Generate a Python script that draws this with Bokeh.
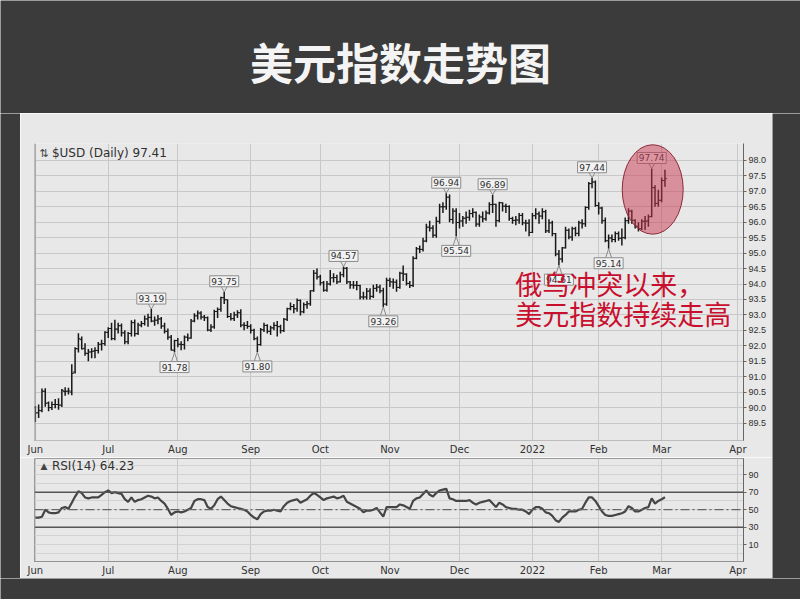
from bokeh.plotting import figure
from bokeh.layouts import column, row
from bokeh.models import (ColumnDataSource, Range1d, FixedTicker, Span, Label,
                          NumeralTickFormatter)
from bokeh.transform import dodge
from bokeh.core.properties import value
from bokeh.embed import file_html
from bokeh.resources import INLINE

# ---------------- data ----------------
title_text = "美元指数走势图"
note_line1 = "俄乌冲突以来，"
note_line2 = "美元指数持续走高"

month_idx = [0, 22, 43, 65, 86, 107, 128, 150, 170, 189, 212]
month_lbl = ["Jun", "Jul", "Aug", "Sep", "Oct", "Nov", "Dec", "2022", "Feb", "Mar", "Apr"]
price_ticks = [89.5, 90.0, 90.5, 91.0, 91.5, 92.0, 92.5, 93.0, 93.5, 94.0,
               94.5, 95.0, 95.5, 96.0, 96.5, 97.0, 97.5, 98.0]
rsi_ticks = [10, 30, 50, 70, 90]
rsi_grid = [0, 10, 20, 30, 40, 50, 60, 70, 80, 90, 100]

opens = [90.00, 89.83, 89.90, 90.53, 90.15, 90.00, 90.10, 90.10, 90.08, 90.52,
         90.53, 90.50, 91.15, 91.90, 92.20, 91.92, 91.75, 91.80, 91.83, 91.85,
         92.05, 92.07, 92.43, 92.56, 92.23, 92.54, 92.65, 92.42, 92.13, 92.40,
         92.75, 92.40, 92.67, 92.72, 92.87, 92.92, 92.80, 92.83, 92.87, 92.64,
         92.47, 92.28, 91.86, 92.17, 92.05, 92.04, 92.28, 92.25, 92.80, 92.97,
         93.06, 92.93, 92.91, 92.51, 92.61, 93.11, 93.18, 93.56, 93.49, 92.95,
         92.88, 93.00, 93.07, 92.67, 92.66, 92.63, 92.50, 92.23, 92.04, 92.52,
         92.66, 92.47, 92.58, 92.66, 92.62, 92.49, 92.86, 93.20, 93.27, 93.20,
         93.47, 93.10, 93.33, 93.36, 93.78, 94.35, 94.23, 94.04, 93.80, 94.00,
         94.20, 94.21, 94.07, 94.30, 94.51, 94.07, 93.97, 93.96, 93.95, 93.58,
         93.58, 93.77, 93.60, 93.86, 93.90, 93.78, 93.35, 94.12, 94.07, 94.06,
         93.89, 94.35, 94.32, 94.02, 93.95, 94.83, 95.14, 95.12, 95.39, 95.84,
         95.81, 95.58, 96.03, 96.50, 96.50, 96.81, 96.09, 96.36, 95.99, 96.04,
         96.13, 96.16, 96.28, 96.32, 95.94, 96.17, 96.11, 96.30, 96.57, 96.58,
         96.05, 96.63, 96.52, 96.51, 96.12, 96.06, 96.07, 96.22, 95.98, 95.97,
         95.67, 96.21, 96.27, 96.20, 96.34, 95.72, 95.98, 95.63, 94.97, 94.81,
         95.17, 95.74, 95.52, 95.79, 95.64, 95.98, 95.95, 96.48, 97.25, 97.30,
         96.54, 96.46, 96.05, 95.40, 95.49, 95.44, 95.63, 95.48, 95.50, 96.05,
         96.36, 96.06, 95.87, 95.79, 96.03, 96.04, 96.18, 97.12, 96.61, 96.71,
         97.35]
highs = [90.05, 90.10, 90.62, 90.63, 90.20, 90.20, 90.28, 90.30, 90.60, 90.66,
         90.64, 91.40, 91.95, 92.41, 92.30, 92.08, 91.90, 91.92, 91.95, 92.12,
         92.20, 92.47, 92.60, 92.75, 92.84, 92.75, 92.72, 92.50, 92.45, 92.83,
         92.85, 92.75, 92.80, 92.98, 93.04, 93.19, 92.95, 93.00, 92.93, 92.75,
         92.56, 92.35, 92.20, 92.25, 92.15, 92.33, 92.40, 92.87, 93.05, 93.14,
         93.12, 93.00, 92.95, 92.70, 93.17, 93.24, 93.59, 93.75, 93.50, 93.06,
         93.10, 93.15, 93.18, 92.76, 92.80, 92.70, 92.55, 92.30, 92.58, 92.75,
         92.70, 92.65, 92.76, 92.80, 92.68, 92.90, 93.23, 93.40, 93.35, 93.53,
         93.50, 93.40, 93.45, 93.80, 94.45, 94.50, 94.30, 94.10, 94.10, 94.45,
         94.35, 94.30, 94.40, 94.57, 94.55, 94.10, 94.10, 94.10, 93.98, 93.75,
         93.87, 93.86, 93.98, 94.00, 93.98, 93.88, 94.20, 94.20, 94.18, 94.15,
         94.40, 94.60, 94.35, 94.10, 94.90, 95.20, 95.25, 95.50, 95.95, 96.05,
         95.90, 96.18, 96.60, 96.65, 96.94, 96.90, 96.45, 96.45, 96.30, 96.20,
         96.35, 96.40, 96.45, 96.35, 96.25, 96.35, 96.38, 96.65, 96.89, 96.60,
         96.66, 96.65, 96.60, 96.55, 96.18, 96.20, 96.30, 96.30, 96.08, 96.10,
         96.30, 96.45, 96.35, 96.45, 96.40, 96.10, 96.05, 95.65, 95.10, 95.20,
         95.85, 95.80, 95.85, 95.85, 96.05, 96.10, 96.52, 97.30, 97.44, 97.35,
         96.65, 96.50, 96.15, 95.60, 95.60, 95.70, 95.70, 95.80, 96.15, 96.45,
         96.40, 96.10, 96.00, 96.10, 96.20, 96.25, 97.74, 97.20, 97.05, 97.45,
         97.70]
lows = [89.53, 89.66, 89.85, 90.03, 89.88, 89.92, 89.98, 89.93, 90.02, 90.38,
        90.42, 90.40, 91.10, 91.78, 91.88, 91.68, 91.50, 91.60, 91.60, 91.75,
        91.85, 92.00, 92.25, 92.18, 92.18, 92.40, 92.30, 92.05, 92.05, 92.30,
        92.30, 92.35, 92.60, 92.66, 92.62, 92.76, 92.65, 92.70, 92.55, 92.40,
        92.20, 91.85, 91.78, 91.95, 91.86, 91.88, 92.15, 92.23, 92.76, 92.85,
        92.85, 92.80, 92.47, 92.45, 92.55, 92.90, 93.10, 93.35, 92.90, 92.82,
        92.80, 92.90, 92.60, 92.50, 92.55, 92.40, 92.18, 91.80, 92.00, 92.45,
        92.40, 92.35, 92.50, 92.30, 92.40, 92.45, 92.80, 93.15, 93.05, 93.10,
        92.98, 93.05, 93.20, 93.30, 93.75, 94.15, 93.95, 93.75, 93.75, 93.95,
        94.05, 94.00, 94.05, 94.22, 94.00, 93.85, 93.85, 93.80, 93.50, 93.50,
        93.50, 93.50, 93.55, 93.75, 93.70, 93.26, 93.30, 93.90, 93.85, 93.75,
        93.85, 94.10, 93.95, 93.87, 93.90, 94.80, 95.00, 95.05, 95.35, 95.70,
        95.50, 95.50, 95.95, 96.30, 96.40, 96.00, 95.95, 95.54, 95.80, 95.85,
        95.95, 96.05, 96.15, 95.85, 95.85, 96.00, 96.05, 96.25, 96.30, 95.85,
        96.00, 96.35, 96.30, 96.05, 95.95, 95.90, 95.95, 95.90, 95.70, 95.55,
        95.65, 96.10, 95.95, 96.10, 95.65, 95.65, 95.55, 94.90, 94.61, 94.70,
        95.15, 95.45, 95.40, 95.55, 95.55, 95.80, 95.85, 96.40, 97.10, 96.50,
        96.25, 95.95, 95.35, 95.14, 95.35, 95.35, 95.40, 95.25, 95.45, 95.95,
        95.95, 95.80, 95.70, 95.75, 95.75, 95.85, 96.16, 96.50, 96.50, 96.65,
        97.15]
closes = [89.83, 89.91, 90.53, 90.14, 90.00, 90.10, 90.10, 90.08, 90.56, 90.53,
          90.54, 91.11, 91.91, 92.23, 91.90, 91.76, 91.80, 91.82, 91.85, 92.05,
          92.07, 92.44, 92.56, 92.23, 92.54, 92.65, 92.42, 92.13, 92.40, 92.75,
          92.39, 92.67, 92.72, 92.87, 92.92, 92.80, 92.83, 92.87, 92.64, 92.47,
          92.28, 91.86, 92.17, 92.05, 92.04, 92.28, 92.25, 92.80, 92.97, 93.06,
          92.93, 92.91, 92.51, 92.61, 93.11, 93.18, 93.56, 93.49, 92.95, 92.88,
          93.00, 93.07, 92.67, 92.66, 92.63, 92.50, 92.23, 92.04, 92.52, 92.66,
          92.47, 92.58, 92.66, 92.62, 92.49, 92.86, 93.20, 93.27, 93.20, 93.47,
          93.10, 93.33, 93.36, 93.78, 94.35, 94.23, 94.04, 93.80, 94.00, 94.20,
          94.21, 94.07, 94.30, 94.51, 94.07, 93.97, 93.96, 93.95, 93.58, 93.58,
          93.77, 93.60, 93.86, 93.90, 93.78, 93.35, 94.12, 94.07, 94.06, 93.89,
          94.35, 94.32, 94.02, 93.95, 94.83, 95.14, 95.12, 95.39, 95.84, 95.81,
          95.58, 96.03, 96.50, 96.50, 96.81, 96.09, 96.36, 95.99, 96.04, 96.13,
          96.16, 96.28, 96.32, 95.94, 96.17, 96.11, 96.30, 96.57, 96.58, 96.05,
          96.63, 96.52, 96.51, 96.12, 96.06, 96.07, 96.22, 95.98, 95.97, 95.67,
          96.21, 96.27, 96.20, 96.34, 95.72, 95.98, 95.63, 94.97, 94.81, 95.17,
          95.74, 95.52, 95.79, 95.64, 95.98, 95.95, 96.48, 97.25, 97.30, 96.54,
          96.46, 96.05, 95.40, 95.49, 95.44, 95.63, 95.48, 95.50, 96.05, 96.36,
          96.06, 95.87, 95.79, 96.03, 96.04, 96.18, 97.12, 96.61, 96.71, 97.35,
          97.41]
rsi = [41, 41, 42, 50, 47, 46, 46, 47, 52, 53, 51, 58, 65, 71, 69, 64, 63, 64, 64, 64,
       67, 70, 72, 69, 70, 69, 68, 62, 59, 64, 59, 61, 62, 64, 66, 65, 63, 64, 60, 57,
       51, 44, 47, 48, 47, 48, 50, 52, 60, 62, 62, 61, 53, 51, 55, 62, 65, 61, 57, 54,
       53, 52, 51, 50, 48, 44, 41, 39, 45, 48, 49, 49, 50, 49, 48, 54, 58, 60, 61, 62,
       58, 60, 62, 66, 69, 67, 64, 61, 63, 64, 65, 63, 64, 66, 59, 57, 55, 53, 51, 47,
       49, 49, 50, 52, 47, 42, 53, 53, 53, 53, 56, 55, 53, 51, 60, 63, 64, 68, 72, 67,
       65, 69, 72, 73, 74, 63, 62, 60, 60, 60, 60, 61, 58, 56, 58, 59, 60, 61, 57, 53,
       58, 56, 53, 52, 51, 51, 50, 50, 48, 45, 50, 53, 53, 51, 47, 46, 43, 38, 36, 41,
       44, 48, 48, 48, 50, 51, 58, 64, 64, 60, 54, 48, 44, 43, 43, 44, 45, 46, 48, 54,
       52, 48, 48, 50, 52, 53, 63, 57, 60, 62, 64.23]

# labelled swing highs / lows (bar index, kind)
ann_idx = [35, 42, 57, 67, 93, 105, 124, 127, 138, 158, 168, 173, 186]
ann_kind = ["H", "L", "H", "L", "H", "L", "H", "L", "H", "L", "H", "L", "H"]

# ---------------- styles ----------------
BG = "#3b3b3b"
PANEL = "#e8e8e8"
GRID = "#c8c8c8"
BAR = "#181818"
TXT = "#303030"
AXFONT = "DejaVu Sans"
NUMFONT = "Liberation Sans"
PX_PER_PRICE = 31.0      # vertical scale of the price panel (px per index point)

n = min(len(opens), len(highs), len(lows), len(closes))
idx = list(range(n))
src = ColumnDataSource(dict(x=idx, o=opens[:n], h=highs[:n], l=lows[:n], c=closes[:n]))


def base_fig(w, h, **kw):
    f = figure(width=w, height=h, output_backend="svg", toolbar_location=None,
               title=None, **kw)
    f.min_border = 0
    return f


def strip(w, h):
    f = base_fig(w, h, x_range=Range1d(0, 1), y_range=Range1d(0, 1),
                 x_axis_location=None, y_axis_location=None)
    f.background_fill_color = BG
    f.border_fill_color = BG
    f.outline_line_color = None
    f.grid.visible = False
    return f


# ---------------- title ----------------
title_fig = base_fig(800, 113, x_range=Range1d(0, 800), y_range=Range1d(0, 113),
                     x_axis_location=None, y_axis_location=None)
title_fig.background_fill_color = BG
title_fig.border_fill_color = BG
title_fig.outline_line_color = None
title_fig.grid.visible = False
title_fig.add_layout(Label(x=400, y=53, text=title_text, text_font="Noto Sans CJK SC",
                           text_font_size="43px", text_font_style="bold",
                           text_color="#f4f4f4", text_align="center",
                           text_baseline="middle"))

# ---------------- price panel ----------------
xr = Range1d(-0.25, 213.7)
price = base_fig(752, 344, x_range=xr, y_range=Range1d(88.935, 98.548),
                 x_axis_location="below", y_axis_location="right")
price.min_border_left = 14
price.min_border_right = 29
price.min_border_top = 30
price.min_border_bottom = 16
price.background_fill_color = PANEL
price.border_fill_color = PANEL
price.outline_line_color = None


def style_x(fig):
    ax = fig.xaxis[0]
    ax.ticker = FixedTicker(ticks=month_idx)
    ax.major_label_overrides = dict(zip(month_idx, month_lbl))
    ax.major_label_text_font = AXFONT
    ax.major_label_text_font_size = "10px"
    ax.major_label_text_color = TXT
    ax.major_tick_out = 0
    ax.major_tick_in = 0
    ax.minor_tick_line_color = None
    ax.major_label_standoff = 3
    ax.axis_line_color = "#8a8a8a"
    ax.axis_line_dash = "1 1"
    fig.xgrid.ticker = FixedTicker(ticks=month_idx)
    fig.xgrid.grid_line_color = GRID


def style_y(fig, ticks, fmt):
    ax = fig.yaxis[0]
    ax.ticker = FixedTicker(ticks=ticks)
    ax.formatter = NumeralTickFormatter(format=fmt)
    ax.major_label_text_font = NUMFONT
    ax.major_label_text_font_size = "9px"
    ax.major_label_text_color = TXT
    ax.major_tick_out = 3
    ax.major_tick_in = 0
    ax.major_tick_line_color = "#666666"
    ax.minor_tick_line_color = None
    ax.major_label_standoff = 2
    ax.axis_line_color = "#666666"


style_x(price)
style_y(price, price_ticks, "0.0")
price.ygrid.ticker = FixedTicker(ticks=price_ticks)
price.ygrid.grid_line_color = GRID
price.add_layout(Span(location=xr.start, dimension="height", line_color="#8a8a8a",
                      line_width=2))

# OHLC bars
price.segment(x0="x", y0="l", x1="x", y1="h", line_color=BAR, line_width=1.5, source=src)
price.segment(x0=dodge("x", -0.6), y0="o", x1="x", y1="o", line_color=BAR,
              line_width=1, source=src)
price.segment(x0="x", y0="c", x1=dodge("x", 0.6), y1="c", line_color=BAR,
              line_width=1, source=src)

# swing labels: boxed value with a small chevron pointing at the bar
ann = dict(x=[], y=[], t=[], cy=[], by=[], xl=[], xr=[])
for i, k in zip(ann_idx, ann_kind):
    if k == "H":
        v = highs[i]
        tip = v + 5 / PX_PER_PRICE           # chevron top, 5 px above the high
        box = v + 10.5 / PX_PER_PRICE        # box centre
    else:
        v = lows[i]
        tip = v - 9 / PX_PER_PRICE           # chevron bottom, 9 px below the low
        box = v - 14.5 / PX_PER_PRICE
    ann["x"].append(i)
    ann["y"].append(v)
    ann["t"].append(f"{v:.2f}")
    ann["cy"].append(tip)
    ann["by"].append(box)
    ann["xl"].append(i - 0.9)
    ann["xr"].append(i + 0.9)
ann_src = ColumnDataSource(ann)
price.segment(x0="xl", y0="cy", x1="x", y1="y", line_color="#8a8a8a", line_width=1,
              source=ann_src)
price.segment(x0="xr", y0="cy", x1="x", y1="y", line_color="#8a8a8a", line_width=1,
              source=ann_src)
price.rect(x="x", y="by", width=29, height=11, width_units="screen", height_units="screen",
           fill_color="#f2f2f2", line_color="#8c8c8c", line_width=1, source=ann_src)
price.text(x="x", y="by", text="t", text_align="center", text_baseline="middle",
           text_font=value(AXFONT), text_font_size="9px", text_color=TXT, source=ann_src)

# highlighted ellipse around the latest surge
price.ellipse(x=186.3, y=97.06, width=18.4, height=2.9, fill_color="#c8394f",
              fill_alpha=0.5, line_color="#8b2a35", line_width=1)

# legend text
price.add_layout(Label(x=2.6, y=98.23, text="⇅", text_font=AXFONT, text_font_size="11px",
                       text_color="#444444", text_align="center", text_baseline="middle"))
price.add_layout(Label(x=5.0, y=98.23, text=f"$USD (Daily) {closes[n - 1]:.2f}",
                       text_font=AXFONT, text_font_size="12px", text_color=TXT,
                       text_baseline="middle"))

# red annotation
for ty, tt in ((94.03, note_line1), (93.03, note_line2)):
    price.add_layout(Label(x=144.8, y=ty, text=tt, text_font="Noto Sans CJK SC",
                           text_font_size="27px", text_color="#c8102e",
                           text_baseline="middle"))

# ---------------- RSI panel ----------------
rsi_src = ColumnDataSource(dict(x=list(range(len(rsi))), r=rsi))
rsip = base_fig(752, 121, x_range=xr, y_range=Range1d(-9.2, 108.5),
                x_axis_location="below", y_axis_location="right")
rsip.min_border_left = 14
rsip.min_border_right = 29
rsip.min_border_top = 1
rsip.min_border_bottom = 17
rsip.background_fill_color = PANEL
rsip.border_fill_color = PANEL
rsip.outline_line_color = "#9a9a9a"
style_x(rsip)
style_y(rsip, rsi_ticks, "0")
rsip.ygrid.ticker = FixedTicker(ticks=rsi_grid)
rsip.ygrid.grid_line_color = "#d2d2d2"

for lv in (70, 30):
    rsip.add_layout(Span(location=lv, dimension="width", line_color="#555555",
                         line_width=1.5))
rsip.add_layout(Span(location=50, dimension="width", line_color="#666666",
                     line_width=1.3, line_dash="9 3 2 3"))
rsip.line(x="x", y="r", source=rsi_src, line_color="#454545", line_width=2.2)

rsip.add_layout(Label(x=2.6, y=100.5, text="▲", text_font=AXFONT, text_font_size="9px",
                      text_color="#444444", text_align="center", text_baseline="middle"))
rsip.add_layout(Label(x=5.0, y=100.5, text=f"RSI(14) {rsi[-1]:.2f}", text_font=AXFONT,
                      text_font_size="12px", text_color=TXT, text_baseline="middle"))

# ---------------- layout ----------------
layout = column(
    title_fig,
    row(strip(20, 465), column(price, rsip), strip(28, 465)),
    strip(800, 21),
)

open("out.html", "w").write(file_html(layout, INLINE))
